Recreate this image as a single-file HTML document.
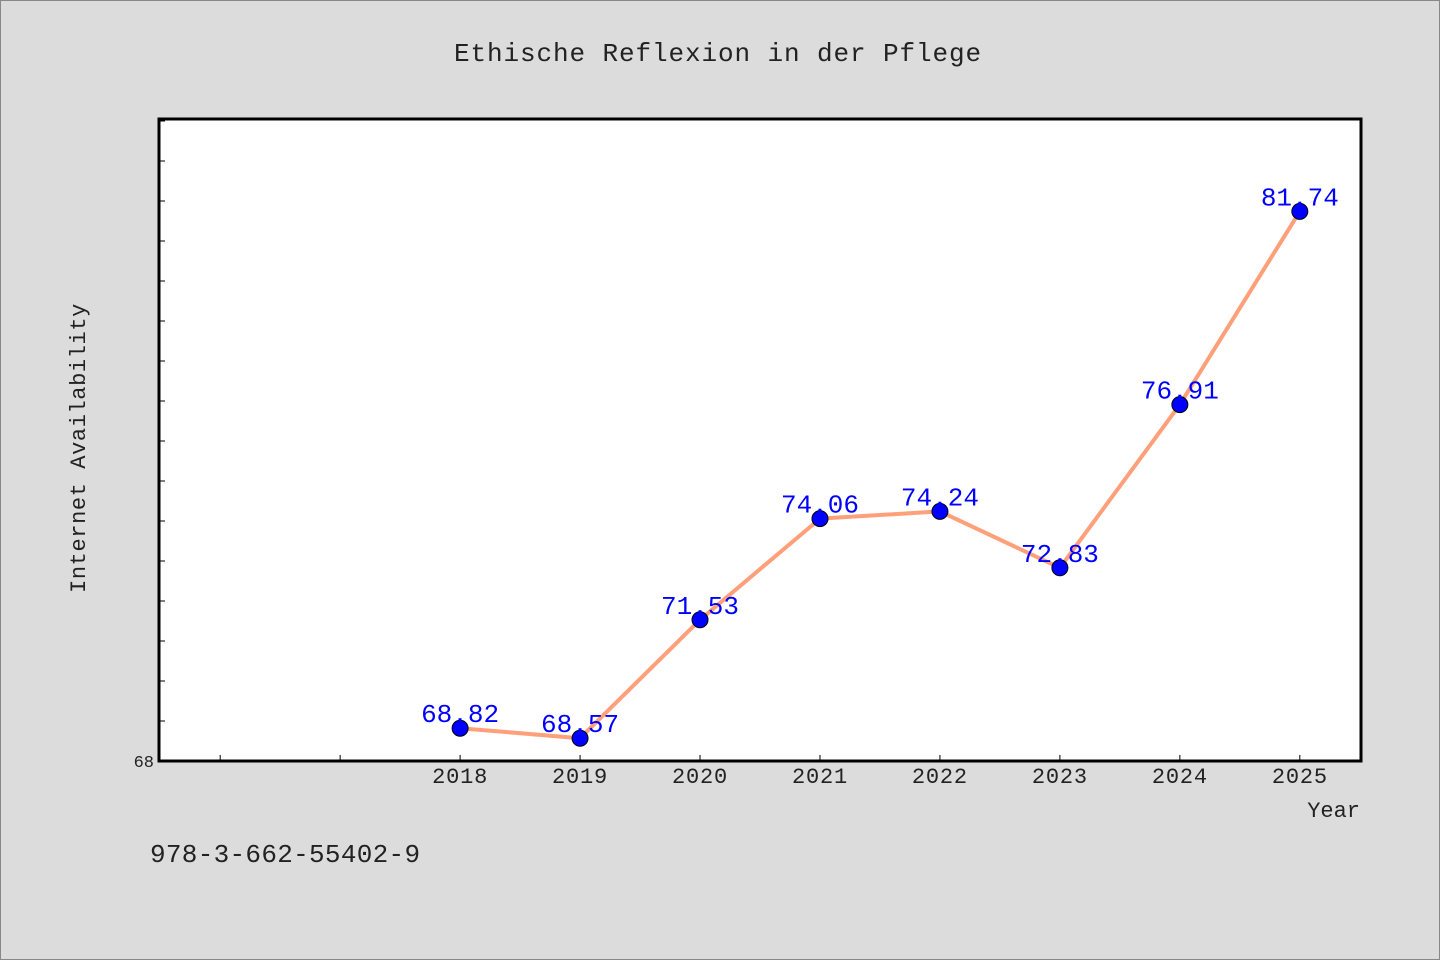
<!DOCTYPE html>
<html><head><meta charset="utf-8"><style>
html,body{margin:0;padding:0;background:#dcdcdc;}
svg{display:block;font-family:"Liberation Mono","DejaVu Sans Mono",monospace;}
</style></head><body>
<svg id="chart" width="1440" height="960">
<rect x="0.5" y="0.5" width="1439" height="959" fill="#dcdcdc" stroke="#888"/>
<text x="718" y="61" font-size="26" text-anchor="middle" fill="#222" letter-spacing="0.9">Ethische Reflexion in der Pflege</text>
<rect x="159" y="119" width="1202" height="642" fill="#fff" stroke="#000" stroke-width="3"/>
<g id="yticks"></g>
<g id="xticks"></g>
<text x="85" y="448" font-size="22" text-anchor="middle" fill="#222" letter-spacing="0.6" transform="rotate(-90 85 448)">Internet Availability</text>
<text x="1360" y="817" font-size="22" text-anchor="end" fill="#222">Year</text>
<text x="150" y="862" font-size="26" fill="#222" letter-spacing="0.3">978-3-662-55402-9</text>
<g id="series"></g>
</svg>
<script>
const years = [2018, 2019, 2020, 2021, 2022, 2023, 2024, 2025];
const values = [68.82, 68.57, 71.53, 74.06, 74.24, 72.83, 76.91, 81.74];
const xTickYears = [2016, 2017, 2018, 2019, 2020, 2021, 2022, 2023, 2024, 2025];
const yTickValues = [68,69,70,71,72,73,74,75,76,77,78,79,80,81,82,83,84];
const yLabelValues = [68];

const X0=159, X1=1361, Y0=761, Y1=119;
const xMin=2015.49, xMax=2025.51, yMin=68, yMax=84.05;
const xs = v => X0 + (v-xMin)/(xMax-xMin)*(X1-X0);
const ys = v => Y0 - (v-yMin)/(yMax-yMin)*(Y0-Y1);
const NS='http://www.w3.org/2000/svg';
function mk(tag, attrs, parent){const e=document.createElementNS(NS,tag);for(const k in attrs)e.setAttribute(k,attrs[k]);parent.appendChild(e);return e;}

const yg=document.getElementById('yticks');
yTickValues.forEach(v=>{
  const t=mk('line',{x1:X0,x2:X0+6,y1:ys(v),y2:ys(v),stroke:'#000','stroke-width':1},yg);
  
  
});
yLabelValues.forEach(v=>{
  const t=mk('text',{x:X0-5,y:ys(v)+6,'font-size':17,'text-anchor':'end',fill:'#222'},yg);
  t.textContent=v;
  
  
});
const xg=document.getElementById('xticks');
xTickYears.forEach(v=>{
  const t=mk('line',{x1:xs(v),x2:xs(v),y1:Y0,y2:Y0-6,stroke:'#000','stroke-width':1},xg);
  
  
});
years.forEach(v=>{
  const t=mk('text',{x:xs(v),y:Y0+22,'font-size':22,'text-anchor':'middle',fill:'#222','letter-spacing':0.8},xg);
  t.textContent=v;
  
  
});
const sg=document.getElementById('series');
const pts=years.map((y,i)=>xs(y)+','+ys(values[i])).join(' ');
const line=mk('polyline',{points:pts,fill:'none',stroke:'#FFA07A','stroke-width':4,'stroke-linejoin':'round'},sg);


years.forEach((y,i)=>{
  const c=mk('circle',{cx:xs(y),cy:ys(values[i]),r:8,fill:'#0000ff',stroke:'#000','stroke-width':1},sg);
  
  
});
years.forEach((y,i)=>{
  const t=mk('text',{x:xs(y),y:ys(values[i])-6,'font-size':26,'text-anchor':'middle',fill:'#0000ff'},sg);
  t.textContent=values[i].toFixed(2);
  
  
});
</script>
</body></html>
